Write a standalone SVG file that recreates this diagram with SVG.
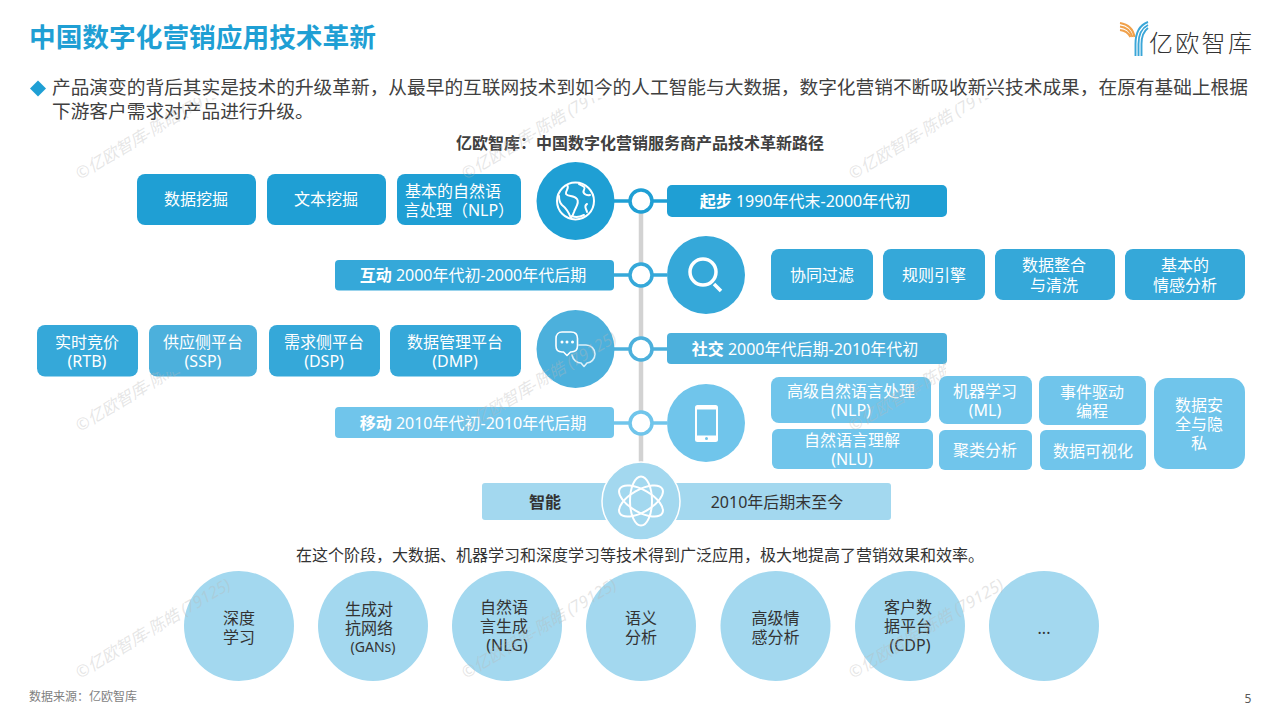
<svg xmlns="http://www.w3.org/2000/svg" width="1280" height="720" viewBox="0 0 1280 720">
<style>
text{font-family:"Noto Sans","Noto Sans CJK SC","Liberation Sans",sans-serif;font-size:16px}
.c{text-anchor:middle}
.w{fill:#fff}
.d{fill:#333}
.b{font-weight:700}
.c1{fill:#1f9fd4}.c2{fill:#35a8d9}.c3{fill:#4cb0dc}.c4{fill:#70c5eb}.c5{fill:#a3d8ef}
.l1{stroke:#1f9fd4}.l2{stroke:#35a8d9}.l3{stroke:#4cb0dc}.l4{stroke:#70c5eb}
.dot{fill:#fff;stroke-width:3.5}
.ico{fill:none;stroke:#fff;stroke-width:2;stroke-linecap:round;stroke-linejoin:round}
.wm{fill:#b8b8b8;fill-opacity:.36;font-size:16.5px;font-style:italic}
.sb{fill:none;stroke:#3aa6d8;stroke-width:1.9}
.so{fill:none;stroke:#f0a14b;stroke-width:2}
</style>
<defs>
<clipPath id="clipTop"><rect x="0" y="98" width="1280" height="200"/></clipPath>
<clipPath id="clipRow2L"><rect x="0" y="372" width="400" height="100"/></clipPath>
<clipPath id="clipRow2R"><rect x="800" y="300" width="146" height="170"/></clipPath>
</defs>
<rect width="1280" height="720" fill="#fff"/>
<g id="header">
<text x="29" y="47" class="b" style="font-size:26.7px;fill:#1f9fd4">中国数字化营销应用技术革新</text>
<g id="logo">
<path class="so" d="M1120 23C1127 24 1133 28 1134.500 37"/>
<path class="so" d="M1120 26.500C1126 27 1130 30 1132.500 37"/>
<path class="so" d="M1120 30C1125 30.500 1128 32 1130.500 37"/>
<path class="sb" d="M1135.500 56V44C1135.500 32 1140 25 1148 22"/>
<path class="sb" d="M1138.500 56V44C1138.500 34 1142 28 1148 25"/>
<path class="sb" d="M1141.500 56V44C1141.500 36 1144 31 1148 28"/>
<text x="1149" y="52" style="font-size:24px;font-weight:300;letter-spacing:2.300px;fill:#333">亿欧智库</text>
</g>
<path d="M38 80.500L46 88.500L38 96.500L30 88.500Z" fill="#1f9fd4"/>
<text style="font-size:18.7px;fill:#404040"><tspan x="52" y="94">产品演变的背后其实是技术的升级革新，从最早的互联网技术到如今的人工智能与大数据，数字化营销不断吸收新兴技术成果，在原有基础上根据</tspan><tspan x="52" y="118">下游客户需求对产品进行升级。</tspan></text>
<text x="640" y="149" class="c b" fill="#404040">亿欧智库：中国数字化营销服务商产品技术革新路径</text>
</g>
<g id="connectors" fill="none" stroke-width="3.5">
<line x1="641" y1="201" x2="641" y2="470" stroke="#d2d2d2" stroke-width="4.500"/>
<line x1="614" y1="201" x2="667" y2="201" class="l1"/>
<line x1="614" y1="275" x2="667" y2="275" class="l2"/>
<line x1="614" y1="349" x2="667" y2="349" class="l3"/>
<line x1="614" y1="423" x2="667" y2="423" class="l4"/>
<circle cx="641" cy="201" r="11" class="dot l1"/>
<circle cx="641" cy="275" r="11" class="dot l2"/>
<circle cx="641" cy="349" r="11" class="dot l3"/>
<circle cx="641" cy="423" r="11" class="dot l4"/>
</g>
<g id="stage1">
<circle cx="575.500" cy="201" r="39" class="c1"/>
<g class="ico"><circle cx="575.500" cy="201" r="18.500"/><path d="M567 185C570 188 565 191 566 194C568 197 574 195 577 199C580 203 575 208 574 212C573 215 571 218 571 218C569 213 566 208 562 205C560 203 559 199 559 196"/><path d="M579 184C583 186 586 187 584 190C582 193 586 196 590 195M587 204C583 206 587 210 587 212M572 216C576 218 580 217 584 215"/></g>
</g>
<g id="stage1-label"><rect x="667" y="185" width="280" height="32" rx="5" class="c1"/><text x="805" y="207" class="c w"><tspan class="b">起步</tspan> 1990年代末-2000年代初</text></g>
<g id="n-datamining"><rect x="137" y="174" width="119" height="51" rx="8" class="c1"/><text x="196" y="205" class="c w">数据挖掘</text></g>
<g id="n-textmining"><rect x="267" y="174" width="119" height="51" rx="8" class="c1"/><text x="326" y="205" class="c w">文本挖掘</text></g>
<g id="n-nlp"><rect x="397" y="174" width="124" height="51" rx="8" class="c1"/><text class="c w"><tspan x="453" y="197">基本的自然语</tspan><tspan x="459" y="216">言处理（NLP）</tspan></text></g>
<g id="stage2">
<circle cx="706" cy="275" r="39" class="c2"/>
<circle cx="703" cy="272" r="13" fill="none" stroke="#fff" stroke-width="3.500"/><line x1="714" y1="284" x2="721" y2="291" stroke="#fff" stroke-width="3.500"/>
</g>
<g id="stage2-label"><rect x="335" y="260" width="279" height="30.500" rx="4" class="c2"/><text x="473" y="281" class="c w"><tspan class="b">互动</tspan> 2000年代初-2000年代后期</text></g>
<g id="n-cf"><rect x="771" y="249" width="102" height="51" rx="8" class="c2"/><text x="822" y="281" class="c w">协同过滤</text></g>
<g id="n-rule"><rect x="883" y="249" width="102" height="51" rx="8" class="c2"/><text x="934" y="281" class="c w">规则引擎</text></g>
<g id="n-clean"><rect x="995" y="249" width="120" height="51" rx="8" class="c2"/><text class="c w"><tspan x="1054" y="271">数据整合</tspan><tspan x="1054" y="291">与清洗</tspan></text></g>
<g id="n-sentiment"><rect x="1125" y="249" width="120" height="51" rx="8" class="c2"/><text class="c w"><tspan x="1185" y="271">基本的</tspan><tspan x="1185" y="291">情感分析</tspan></text></g>
<g id="stage3">
<circle cx="575.500" cy="349" r="39" class="c3"/>
<g class="ico" style="stroke-width:1.600"><path d="M562 332H571C575 332 577.500 334.500 577.500 338.500V346C577.500 350 575 352 571 352H570.500L567 355.500L563.500 352H562C558.500 352 556 350 556 346V338.500C556 334.500 558.500 332 562 332Z"/><path d="M579 345H586C591 345 595 349 595 354C595 359 591 363 587 363L584 366.500L581 363C577 363 573 360 572 355" stroke-opacity=".8"/></g>
<circle cx="562" cy="342" r="1.500" fill="#fff"/><circle cx="567" cy="342" r="1.500" fill="#fff"/><circle cx="572.500" cy="342" r="1.500" fill="#fff"/>
</g>
<g id="stage3-label"><rect x="667" y="333" width="280" height="31" rx="4" class="c3"/><text x="805" y="355" class="c w"><tspan class="b">社交</tspan> 2000年代后期-2010年代初</text></g>
<g id="n-rtb"><rect x="37" y="325" width="101" height="51.500" rx="8" class="c2"/><text class="c w"><tspan x="87" y="348">实时竞价</tspan><tspan x="87" y="367">(RTB)</tspan></text></g>
<g id="n-ssp"><rect x="149" y="325" width="108" height="51.500" rx="8" class="c3"/><text class="c w"><tspan x="203" y="348">供应侧平台</tspan><tspan x="203" y="367">(SSP)</tspan></text></g>
<g id="n-dsp"><rect x="269" y="325" width="111" height="51.500" rx="8" class="c2"/><text class="c w"><tspan x="324" y="348">需求侧平台</tspan><tspan x="324" y="367">(DSP)</tspan></text></g>
<g id="n-dmp"><rect x="390" y="325" width="131" height="51.500" rx="8" class="c2"/><text class="c w"><tspan x="455" y="348">数据管理平台</tspan><tspan x="455" y="367">(DMP)</tspan></text></g>
<g id="stage4">
<circle cx="706" cy="423" r="39" class="c4"/>
<rect x="695" y="405" width="23" height="37" rx="2.500" fill="#fff"/><rect x="697" y="409.500" width="19" height="26" fill="#70c5eb"/><circle cx="706.500" cy="438.500" r="1.500" fill="#70c5eb"/>
</g>
<g id="stage4-label"><rect x="335" y="407" width="279" height="31" rx="4" class="c4"/><text x="473" y="429" class="c w"><tspan class="b">移动</tspan> 2010年代初-2010年代后期</text></g>
<g id="n-anlp"><rect x="771" y="377" width="160" height="46" rx="8" class="c4"/><text class="c w"><tspan x="851" y="397">高级自然语言处理</tspan><tspan x="851" y="416">(NLP)</tspan></text></g>
<g id="n-nlu"><rect x="772" y="429" width="161" height="40" rx="6" class="c4"/><text class="c w"><tspan x="852" y="446">自然语言理解</tspan><tspan x="852" y="465">(NLU)</tspan></text></g>
<g id="n-ml"><rect x="939" y="376" width="93" height="48" rx="8" class="c4"/><text class="c w"><tspan x="985" y="397">机器学习</tspan><tspan x="985" y="416">(ML)</tspan></text></g>
<g id="n-cluster"><rect x="939" y="430" width="93" height="40" rx="6" class="c4"/><text x="985" y="456" class="c w">聚类分析</text></g>
<g id="n-event"><rect x="1039" y="376" width="107" height="49" rx="8" class="c4"/><text class="c w"><tspan x="1092" y="398">事件驱动</tspan><tspan x="1092" y="417">编程</tspan></text></g>
<g id="n-viz"><rect x="1040" y="430" width="106" height="40" rx="6" class="c4"/><text x="1093" y="457" class="c w">数据可视化</text></g>
<g id="n-security"><rect x="1154" y="378" width="91" height="91" rx="14" class="c4"/><text class="c w"><tspan x="1199" y="411">数据安</tspan><tspan x="1199" y="430">全与隐</tspan><tspan x="1199" y="449">私</tspan></text></g>
<g id="stage5">
<rect x="482" y="483" width="409" height="37" rx="3" class="c5"/>
<circle cx="641" cy="501" r="39" class="c5" stroke="#fff" stroke-width="1.500"/>
<g class="ico"><ellipse cx="641" cy="501" rx="11" ry="24.500"/><ellipse cx="641" cy="501" rx="11" ry="24.500" transform="rotate(60 641 501)"/><ellipse cx="641" cy="501" rx="11" ry="24.500" transform="rotate(-60 641 501)"/></g>
<text x="545" y="508" class="c b" fill="#333">智能</text>
<text x="777" y="508" class="c d">2010年后期末至今</text>
</g>
<text x="640" y="561" class="c d" id="stage5-note">在这个阶段，大数据、机器学习和深度学习等技术得到广泛应用，极大地提高了营销效果和效率。</text>
<g id="t-dl"><circle cx="239" cy="626" r="55" class="c5"/><text class="c d"><tspan x="239" y="624">深度</tspan><tspan x="239" y="643">学习</tspan></text></g>
<g id="t-gan"><circle cx="373" cy="626" r="55" class="c5"/><text class="c d"><tspan x="369" y="615">生成对</tspan><tspan x="369" y="634">抗网络</tspan><tspan x="373" y="652" style="font-size:14px">(GANs)</tspan></text></g>
<g id="t-nlg"><circle cx="507" cy="626" r="55" class="c5"/><text class="c d"><tspan x="504" y="613">自然语</tspan><tspan x="504" y="632">言生成</tspan><tspan x="507" y="651">(NLG)</tspan></text></g>
<g id="t-sem"><circle cx="641" cy="626" r="55" class="c5"/><text class="c d"><tspan x="641" y="624">语义</tspan><tspan x="641" y="643">分析</tspan></text></g>
<g id="t-asa"><circle cx="775.500" cy="626" r="55" class="c5"/><text class="c d"><tspan x="775.500" y="624">高级情</tspan><tspan x="775.500" y="643">感分析</tspan></text></g>
<g id="t-cdp"><circle cx="910" cy="626" r="55" class="c5"/><text class="c d"><tspan x="908" y="613">客户数</tspan><tspan x="908" y="632">据平台</tspan><tspan x="910" y="651">(CDP)</tspan></text></g>
<g id="t-more"><circle cx="1044" cy="626" r="55" class="c5"/><text x="1044" y="634" class="c d">...</text></g>
<text x="29" y="701" style="font-size:12px;fill:#7f7f7f">数据来源：亿欧智库</text>
<text x="1248" y="703" class="c" style="font-size:12px;fill:#595959">5</text>
<g id="watermarks">
<g clip-path="url(#clipTop)">
<text class="wm" transform="translate(80 180) rotate(-31)">©亿欧智库-陈皓 (79125)</text>
<text class="wm" transform="translate(466 180) rotate(-31)">©亿欧智库-陈皓 (79125)</text>
<text class="wm" transform="translate(853 180) rotate(-31)">©亿欧智库-陈皓 (79125)</text>
</g>
<g clip-path="url(#clipRow2L)"><text class="wm" transform="translate(80 432) rotate(-31)">©亿欧智库-陈皓 (79125)</text></g>
<text class="wm" transform="translate(466 432) rotate(-31)">©亿欧智库-陈皓 (79125)</text>
<g clip-path="url(#clipRow2R)"><text class="wm" transform="translate(853 432) rotate(-31)">©亿欧智库-陈皓 (79125)</text></g>
<text class="wm" transform="translate(80 679) rotate(-31)">©亿欧智库-陈皓 (79125)</text>
<text class="wm" transform="translate(466 679) rotate(-31)">©亿欧智库-陈皓 (79125)</text>
<text class="wm" transform="translate(853 679) rotate(-31)">©亿欧智库-陈皓 (79125)</text>
</g>
</svg>
